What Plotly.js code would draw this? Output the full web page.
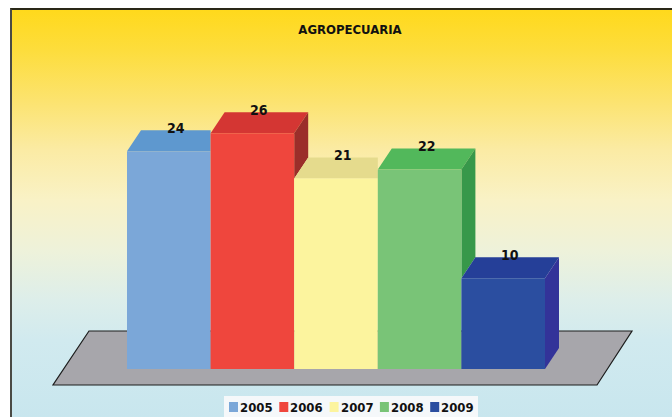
<!DOCTYPE html>
<html>
<head>
<meta charset="utf-8">
<script src="https://cdn.plot.ly/plotly-3.0.1.min.js"></script>
<style>
  html, body { margin: 0; padding: 0; background: #ffffff; width: 672px; height: 417px; overflow: hidden; }
  #frame {
    position: absolute; left: 10px; top: 8px; width: 680px; height: 420px;
    border-top: 2px solid #2a2818; border-left: 2px solid #4a4a44;
    background: linear-gradient(to bottom,
      #ffd91c 0px, #fddd3c 40px, #fce36e 90px, #fbeba4 140px, #f9f2c6 190px,
      #eef2da 240px, #ddeeea 290px, #d1eaef 330px, #c8e6ee 409px);
  }
  #chart { position: absolute; left: 0; top: 0; width: 672px; height: 417px; }
</style>
</head>
<body>
<div id="frame"></div>
<div id="chart"></div>
<script>
// ---- data ----
const years = ["2005", "2006", "2007", "2008", "2009"];
const values = [24, 26, 21, 22, 10];
const frontColors = ["#7ba7d8", "#ef463d", "#fcf49e", "#79c477", "#2b4ea0"];
const topColors   = ["#5e98cf", "#d43633", "#e5db8d", "#52b85b", "#253f98"];
const sideColors  = ["#4a7fb8", "#9b2e2a", "#c9bf70", "#37984a", "#333399"];
const chartTitle = "AGROPECUARIA";

// ---- geometry (pixels) ----
const W = 672, H = 417;
const pxPerX = 83.6, pxPerY = 9.07;
const x0px = 127;       // left edge of first bar
const y0px = 369;       // baseline
const depthDX = 14, depthDY = 21;   // oblique depth offset in px
const dxU = depthDX / pxPerX, dyU = depthDY / pxPerY;
const xr = [-0.5 - x0px / pxPerX, -0.5 + (W - x0px) / pxPerX];
const yr = [-(H - y0px) / pxPerY, y0px / pxPerY];
const FONT = "Liberation Sans Narrow, Arial Narrow, DejaVu Sans Condensed, sans-serif";

function toX(px) { return xr[0] + px / pxPerX; }
function toY(py) { return yr[1] - py / pxPerY; }
function path(pts) { return "M" + pts.map(p => p[0] + "," + p[1]).join(" L") + " Z"; }

const shapes = [];
// floor slab
shapes.push({
  type: "path", xref: "x", yref: "y", layer: "below",
  path: path([[toX(53), toY(385)], [toX(597), toY(385)], [toX(632), toY(331)], [toX(89), toY(331)]]),
  fillcolor: "#a7a6ab", line: { color: "#1c1c1c", width: 1.2 }
});
// top and side faces, painted left to right
values.forEach((v, i) => {
  const L = i - 0.5, R = i + 0.5;
  const next = i < values.length - 1 ? values[i + 1] : null;
  let topPts;
  if (next !== null && next > v) {
    topPts = [[L, v], [R, v], [R, v + dyU], [L + dxU, v + dyU]];
  } else {
    topPts = [[L, v], [R, v], [R + dxU, v + dyU], [L + dxU, v + dyU]];
  }
  shapes.push({ type: "path", xref: "x", yref: "y", layer: "below", path: path(topPts),
    fillcolor: topColors[i], line: { width: 0 } });
  if (next === null || next < v) {
    const lo = next === null ? 0 : next;
    shapes.push({ type: "path", xref: "x", yref: "y", layer: "below",
      path: path([[R, lo], [R + dxU, lo + dyU], [R + dxU, v + dyU], [R, v]]),
      fillcolor: sideColors[i], line: { width: 0 } });
  }
});

// manual legend
const legL = 224, legR = 478, legT = 396;
shapes.push({ type: "rect", xref: "paper", yref: "paper", layer: "above",
  x0: legL / W, x1: legR / W, y0: 1 - (H + 5) / H, y1: 1 - legT / H,
  fillcolor: "#f5f8fa", line: { width: 0 } });
const annotations = [];
years.forEach((yr_, i) => {
  const sx = 229 + 50.3 * i;
  shapes.push({ type: "rect", xref: "paper", yref: "paper", layer: "above",
    x0: sx / W, x1: (sx + 9) / W, y0: 1 - 412 / H, y1: 1 - 402 / H,
    fillcolor: frontColors[i], line: { width: 0 } });
  annotations.push({ xref: "paper", yref: "paper", x: (sx + 9) / W, y: 1 - 407 / H,
    xanchor: "left", yanchor: "middle", showarrow: false, text: "<b>" + yr_ + "</b>",
    font: { family: FONT, size: 13, color: "#111111" } });
});
// value labels
values.forEach((v, i) => {
  annotations.push({ xref: "x", yref: "y", x: i + dxU / 2, y: v + dyU + 0.25,
    xanchor: "center", yanchor: "middle", showarrow: false, text: "<b>" + v + "</b>",
    font: { family: FONT, size: 14, color: "#111111" } });
});

const trace = {
  type: "bar", x: values.map((_, i) => i), y: values, width: 1,
  marker: { color: frontColors, line: { width: 0 } },
  hoverinfo: "skip", showlegend: false
};

const layout = {
  width: W, height: H, margin: { l: 0, r: 0, t: 0, b: 0 },
  paper_bgcolor: "rgba(0,0,0,0)", plot_bgcolor: "rgba(0,0,0,0)",
  title: { text: "<b>" + chartTitle + "</b>", x: 350 / W, y: 1 - 29 / H, xanchor: "center", yanchor: "middle",
    font: { family: FONT, size: 13, color: "#111111" } },
  xaxis: { range: xr, showgrid: false, zeroline: false, showticklabels: false, ticks: "", showline: false, fixedrange: true },
  yaxis: { range: yr, showgrid: false, zeroline: false, showticklabels: false, ticks: "", showline: false, fixedrange: true },
  shapes: shapes, annotations: annotations, showlegend: false
};

Plotly.newPlot("chart", [trace], layout, { displayModeBar: false, staticPlot: true });
</script>
</body>
</html>
